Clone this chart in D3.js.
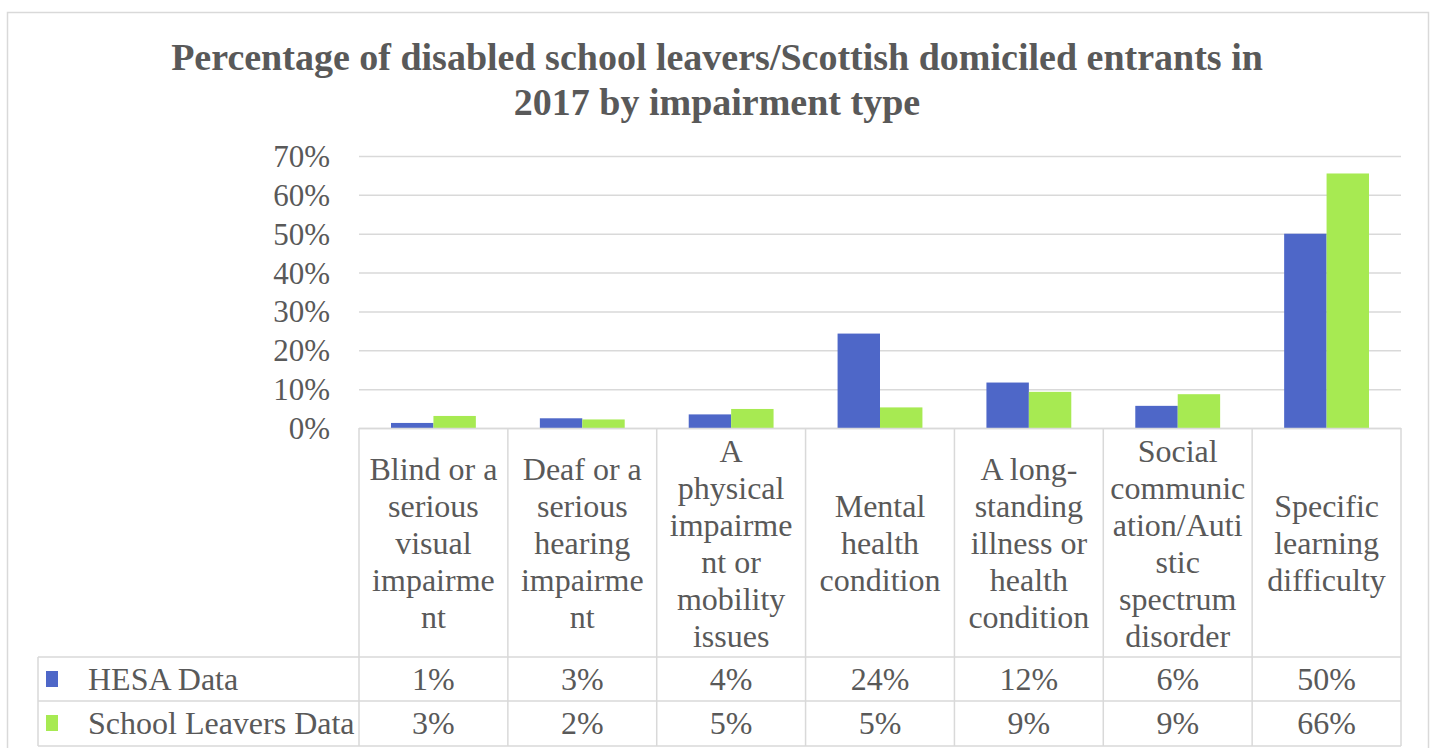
<!DOCTYPE html>
<html><head><meta charset="utf-8">
<script src="https://cdn.jsdelivr.net/npm/d3@7"></script>
<style>
html,body{margin:0;padding:0;background:#fff;}
svg{display:block;}
text{font-family:"Liberation Serif","Times New Roman",serif;fill:#595959;}
</style></head>
<body><svg id="c" width="1437" height="748"></svg>
<script>
const titleLines = ["Percentage of disabled school leavers/Scottish domiciled entrants in", "2017 by impairment type"];
const categories = [
  ["Blind or a","serious","visual","impairme","nt"],
  ["Deaf or a","serious","hearing","impairme","nt"],
  ["A","physical","impairme","nt or","mobility","issues"],
  ["Mental","health","condition"],
  ["A long-","standing","illness or","health","condition"],
  ["Social","communic","ation/Auti","stic","spectrum","disorder"],
  ["Specific","learning","difficulty"]
];
const seriesNames = ["HESA Data", "School Leavers Data"];
const hesa = [1.3, 2.5, 3.5, 24.3, 11.7, 5.7, 50.0];
const schoolLeavers = [3.1, 2.2, 4.9, 5.3, 9.3, 8.7, 65.5];
const yTicks = [0, 10, 20, 30, 40, 50, 60, 70];
const colors = ["#4E67C8", "#A7EA52"];

const svg = d3.select("#c");
const L = 359, R = 1401, T = 156, B = 428;
const tableBottom = 746, headBottom = 657, row1Bottom = 701, legLeft = 38;
const grid = "#d9d9d9";

// outer border
svg.append("rect").attr("x",7.5).attr("y",12.5).attr("width",1421).attr("height",760)
  .attr("fill","none").attr("stroke",grid).attr("stroke-width",1.5);

// title
svg.append("text").attr("x",717).attr("y",70).attr("text-anchor","middle")
  .style("font-weight","bold").style("font-size","38px")
  .selectAll("tspan").data(titleLines).join("tspan")
  .attr("x",717).attr("dy",(d,i)=> i===0?0:45).text(d=>d);

const x = d3.scaleBand().domain(d3.range(categories.length)).range([L,R]).paddingInner(0).paddingOuter(0);
const y = d3.scaleLinear().domain([0,70]).range([B,T]);

// gridlines
const yAxis = d3.axisLeft(y).tickValues(yTicks).tickSize(-(R-L)).tickFormat(d=>d+"%");
const ga = svg.append("g").attr("transform",`translate(${L},0)`).call(yAxis);
ga.select(".domain").remove();
ga.selectAll(".tick line").attr("stroke",grid).attr("stroke-width",1.5);
ga.selectAll(".tick text").attr("x",-29).attr("dy","0.34em")
  .style("font-size","31px").style("fill","#595959").style("font-family","Liberation Serif");

// bars
const groupW = x.bandwidth()*0.57;
const barW = groupW/2;
const series = [hesa, schoolLeavers];
series.forEach((vals, si) => {
  svg.append("g").selectAll("rect").data(vals).join("rect")
    .attr("x",(d,i)=> x(i) + (x.bandwidth()-groupW)/2 + si*barW)
    .attr("y",d=>y(d)).attr("width",barW).attr("height",d=>B-y(d))
    .attr("fill",colors[si]);
});

// table lines
const tl = svg.append("g").attr("stroke",grid).attr("stroke-width",1.5);
tl.append("line").attr("x1",L).attr("x2",R).attr("y1",B+0.5).attr("y2",B+0.5);
d3.range(categories.length+1).forEach(i=>{
  const xx = i<categories.length ? x(i) : R;
  tl.append("line").attr("x1",xx).attr("x2",xx).attr("y1",B).attr("y2",tableBottom);
});
[headBottom, row1Bottom, tableBottom].forEach(yy=>{
  tl.append("line").attr("x1",legLeft).attr("x2",R).attr("y1",yy).attr("y2",yy);
});
tl.append("line").attr("x1",legLeft).attr("x2",legLeft).attr("y1",headBottom).attr("y2",tableBottom);

// category labels
const lh = 37, cy = 543;
categories.forEach((lines,i)=>{
  const t = svg.append("text").attr("text-anchor","middle").style("font-size","32px");
  lines.forEach((ln,j)=>{
    t.append("tspan").attr("x", x(i)+x.bandwidth()/2)
     .attr("y", cy + (j-(lines.length-1)/2)*lh).attr("dy","0.35em").text(ln);
  });
});

// data rows
const rowCy = [679, 723];
series.forEach((vals,si)=>{
  svg.append("rect").attr("x",46).attr("y",rowCy[si]-8).attr("width",12).attr("height",16).attr("fill",colors[si]);
  svg.append("text").attr("x",88).attr("y",rowCy[si]).attr("dy","0.35em").style("font-size","32px").text(seriesNames[si]);
  svg.append("g").selectAll("text").data(vals).join("text")
    .attr("x",(d,i)=>x(i)+x.bandwidth()/2).attr("y",rowCy[si]).attr("dy","0.35em")
    .attr("text-anchor","middle").style("font-size","32px").text(d=>Math.round(d)+"%");
});
</script></body></html>
